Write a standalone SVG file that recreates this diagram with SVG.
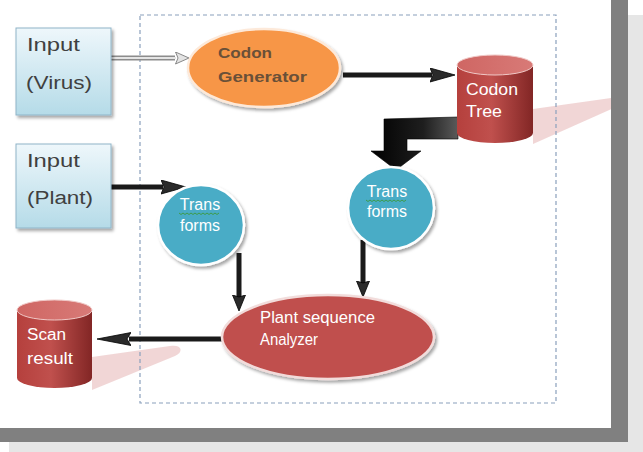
<svg xmlns="http://www.w3.org/2000/svg" width="643" height="452" viewBox="0 0 643 452">
  <style>
    .inTxt { font-family: "Liberation Sans", Arial, sans-serif; font-size: 18px; fill: #404040; }
    .wTxt { font-family: "Liberation Sans", Arial, sans-serif; font-size: 16px; fill: #ffffff; }
    .genTxt { font-family: "Liberation Sans", Arial, sans-serif; font-size: 15px; font-weight: bold; fill: #6a5038; }
    .conn { fill: none; stroke: #1a1a1a; stroke-width: 5; }
    .squig { fill: none; stroke: #3c9a3c; stroke-width: 0.9; }
    .cylShadow { fill: #efcfcf; opacity: 0.85; }
  </style>
  <defs>
    <linearGradient id="boxGrad" x1="0" y1="0" x2="0" y2="1">
      <stop offset="0" stop-color="#eef7fb"/>
      <stop offset="1" stop-color="#b5dbe8"/>
    </linearGradient>
    <linearGradient id="cylBody" x1="0" y1="0" x2="1" y2="0">
      <stop offset="0" stop-color="#b5403d"/>
      <stop offset="0.45" stop-color="#c0504d"/>
      <stop offset="1" stop-color="#822625"/>
    </linearGradient>
    <linearGradient id="cylTop" x1="0" y1="0" x2="1" y2="0">
      <stop offset="0" stop-color="#cf6663"/>
      <stop offset="1" stop-color="#d87a77"/>
    </linearGradient>
    <linearGradient id="bentGrad" x1="0" y1="0" x2="1" y2="0">
      <stop offset="0" stop-color="#000000"/>
      <stop offset="0.6" stop-color="#1e1e1e"/>
      <stop offset="1" stop-color="#5a5a5a"/>
    </linearGradient>
    <filter id="drop" x="-10%" y="-10%" width="125%" height="130%">
      <feDropShadow dx="2" dy="2.5" stdDeviation="1.6" flood-color="#000" flood-opacity="0.35"/>
    </filter>
    <clipPath id="page">
      <rect x="0" y="0" width="611" height="428"/>
    </clipPath>
    <marker id="head" markerUnits="userSpaceOnUse" orient="auto" markerWidth="28" markerHeight="16" refX="2" refY="7" viewBox="0 0 28 16">
      <path d="M0,0 L25,7 L0,14 L3,7 Z" fill="#2a2a2a" stroke="#000" stroke-width="0.8"/>
    </marker>
    <marker id="headShort" markerUnits="userSpaceOnUse" orient="auto" markerWidth="22" markerHeight="14" refX="2" refY="6.5" viewBox="0 0 22 14">
      <path d="M0,0 L16,6.5 L0,13 L2,6.5 Z" fill="#2a2a2a" stroke="#000" stroke-width="0.8"/>
    </marker>
    <marker id="headLong" markerUnits="userSpaceOnUse" orient="auto" markerWidth="36" markerHeight="14" refX="2" refY="6.5" viewBox="0 0 36 14">
      <path d="M0,0 L34,6.5 L0,13 L4,6.5 Z" fill="#2a2a2a" stroke="#000" stroke-width="0.8"/>
    </marker>
    <marker id="headHollow" markerUnits="userSpaceOnUse" orient="auto" markerWidth="16" markerHeight="14" refX="1" refY="6.5" viewBox="0 0 16 14">
      <path d="M0.5,0.5 L14,6.5 L0.5,12.5 L3,6.5 Z" fill="#e4e4e4" stroke="#888" stroke-width="1"/>
    </marker>
  </defs>

  <!-- page with layered shadow -->
  <rect x="9" y="15" width="634" height="437" fill="#e6e6e6"/>
  <rect x="0" y="0" width="628" height="442" fill="#808080"/>
  <rect x="0" y="0" width="611" height="428" fill="#ffffff"/>

  <!-- ground shadows of the two cylinders -->
  <g clip-path="url(#page)">
    <path class="cylShadow" d="M533,109 L618,97 L618,106 L533,144 Z"/>
    <path class="cylShadow" d="M92,357 L170,346 C182,344 184,352 175,356 L92,390 Z"/>
  </g>

  <!-- dashed system boundary -->
  <rect x="140" y="15" width="416" height="388" fill="none" stroke="#8aa0bc" stroke-width="1.2" stroke-dasharray="4 3"/>

  <!-- connectors -->
  <g id="connectors">
    <!-- Input (Virus) to Codon Generator -->
    <g id="c-virus-gen">
      <line x1="111" y1="58" x2="175" y2="58" stroke="#8c8c8c" stroke-width="5"/>
      <line x1="111" y1="58" x2="176" y2="58" stroke="#e4e4e4" stroke-width="2" marker-end="url(#headHollow)"/>
    </g>
    <!-- Codon Generator to Codon Tree -->
    <line id="c-gen-tree" class="conn" x1="343" y1="75" x2="432" y2="75" marker-end="url(#head)"/>
    <!-- Codon Tree to right Trans forms (bent block arrow) -->
    <path id="c-tree-trans" d="M458,117 L384,119 L384,151 L371,151 L396,170 L421,151 L407,151 L407,139 L458,139 Z" fill="url(#bentGrad)" stroke="#000" stroke-width="0.6"/>
    <!-- Input (Plant) to left Trans forms -->
    <line id="c-plant-trans" class="conn" x1="111" y1="187" x2="163" y2="187" marker-end="url(#head)"/>
    <!-- left Trans forms to Analyzer -->
    <line id="c-transL-an" class="conn" x1="239" y1="253" x2="239" y2="297" marker-end="url(#headShort)"/>
    <!-- right Trans forms to Analyzer -->
    <line id="c-transR-an" class="conn" x1="363" y1="240" x2="363" y2="283" marker-end="url(#headShort)"/>
    <!-- Analyzer to Scan result -->
    <line id="c-an-scan" class="conn" x1="223" y1="339" x2="129" y2="339" marker-end="url(#headLong)"/>
  </g>

  <!-- Input (Virus) -->
  <g id="input-virus">
    <rect x="16" y="28" width="95" height="87" fill="url(#boxGrad)" stroke="#8fb4c8" stroke-width="1" filter="url(#drop)"/>
    <text class="inTxt" x="27" y="51" textLength="53" lengthAdjust="spacingAndGlyphs">Input</text>
    <text class="inTxt" x="26" y="89" textLength="66" lengthAdjust="spacingAndGlyphs">(Virus)</text>
  </g>

  <!-- Input (Plant) -->
  <g id="input-plant">
    <rect x="16" y="144" width="95" height="84" fill="url(#boxGrad)" stroke="#8fb4c8" stroke-width="1" filter="url(#drop)"/>
    <text class="inTxt" x="27" y="167" textLength="53" lengthAdjust="spacingAndGlyphs">Input</text>
    <text class="inTxt" x="27" y="204" textLength="66" lengthAdjust="spacingAndGlyphs">(Plant)</text>
  </g>

  <!-- Codon Generator -->
  <g id="codon-generator">
    <ellipse cx="264" cy="68" rx="76" ry="39" fill="#f79646" stroke="#fde9d9" stroke-width="2.5" filter="url(#drop)"/>
    <text class="genTxt" x="218" y="58" textLength="54" lengthAdjust="spacingAndGlyphs">Codon</text>
    <text class="genTxt" x="218" y="82" textLength="89" lengthAdjust="spacingAndGlyphs">Generator</text>
  </g>

  <!-- Codon Tree -->
  <g id="codon-tree">
    <path d="M457,65 L457,133 A38,10 0 0 0 533,133 L533,65 Z" fill="url(#cylBody)"/>
    <ellipse cx="495" cy="65" rx="38" ry="10" fill="url(#cylTop)" stroke="#f0c8c6" stroke-width="1"/>
    <text class="wTxt" x="466" y="95" textLength="52" lengthAdjust="spacingAndGlyphs">Codon</text>
    <text class="wTxt" x="466" y="117" textLength="36" lengthAdjust="spacingAndGlyphs">Tree</text>
  </g>

  <!-- left Trans forms -->
  <g id="trans-left">
    <ellipse cx="201" cy="225" rx="43" ry="40" fill="#4aacc6" stroke="#ffffff" stroke-width="2.5" filter="url(#drop)"/>
    <text class="wTxt" x="200" y="210" text-anchor="middle">Trans</text>
    <path class="squig" d="M179,213 l2,1.5 l2,-1.5 l2,1.5 l2,-1.5 l2,1.5 l2,-1.5 l2,1.5 l2,-1.5 l2,1.5 l2,-1.5 l2,1.5 l2,-1.5 l2,1.5 l2,-1.5 l2,1.5 l2,-1.5 l2,1.5 l2,-1.5 l2,1.5 l2,-1.5"/>
    <text class="wTxt" x="200" y="231" text-anchor="middle">forms</text>
  </g>

  <!-- right Trans forms -->
  <g id="trans-right">
    <ellipse cx="391" cy="208" rx="43" ry="41" fill="#4aacc6" stroke="#ffffff" stroke-width="2.5" filter="url(#drop)"/>
    <text class="wTxt" x="387" y="197" text-anchor="middle">Trans</text>
    <path class="squig" d="M366,200 l2,1.5 l2,-1.5 l2,1.5 l2,-1.5 l2,1.5 l2,-1.5 l2,1.5 l2,-1.5 l2,1.5 l2,-1.5 l2,1.5 l2,-1.5 l2,1.5 l2,-1.5 l2,1.5 l2,-1.5 l2,1.5 l2,-1.5 l2,1.5 l2,-1.5"/>
    <text class="wTxt" x="387" y="217" text-anchor="middle">forms</text>
  </g>

  <!-- Plant sequence Analyzer -->
  <g id="analyzer">
    <ellipse cx="328" cy="337" rx="106" ry="42" fill="#c0504d" stroke="#f2dcdb" stroke-width="2.5" filter="url(#drop)"/>
    <text class="wTxt" x="260" y="323" textLength="115" lengthAdjust="spacingAndGlyphs">Plant sequence</text>
    <text class="wTxt" x="260" y="345" textLength="58" lengthAdjust="spacingAndGlyphs">Analyzer</text>
  </g>

  <!-- Scan result -->
  <g id="scan-result">
    <path d="M17,310 L17,378 A37.5,10 0 0 0 92,378 L92,310 Z" fill="url(#cylBody)"/>
    <ellipse cx="54.5" cy="310" rx="37.5" ry="10" fill="url(#cylTop)" stroke="#f0c8c6" stroke-width="1"/>
    <text class="wTxt" x="27" y="340" textLength="39" lengthAdjust="spacingAndGlyphs">Scan</text>
    <text class="wTxt" x="27" y="364" textLength="46" lengthAdjust="spacingAndGlyphs">result</text>
  </g>
</svg>
